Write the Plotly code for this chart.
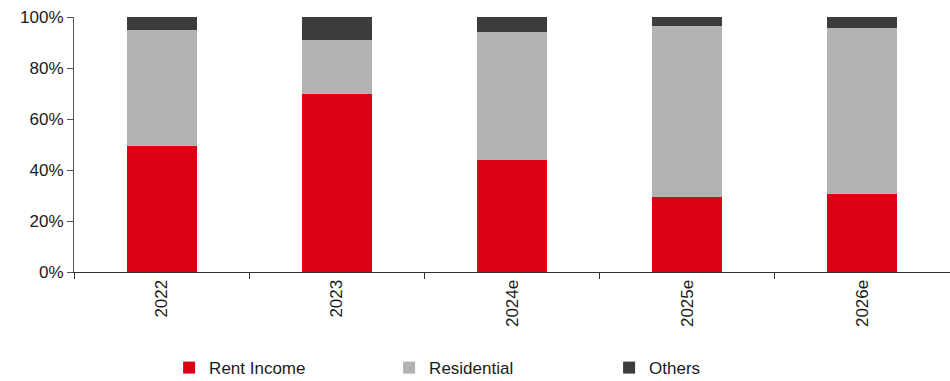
import plotly.graph_objects as go

categories = ["2022", "2023", "2024e", "2025e", "2026e"]
rent_income = [49.6, 69.7, 44.0, 29.3, 30.7]
residential = [45.2, 21.2, 50.0, 67.1, 64.9]
others = [5.2, 9.1, 6.0, 3.6, 4.4]

series_names = ["Rent Income", "Residential", "Others"]
colors = ["#DC0014", "#B2B2B2", "#3C3C3C"]

FONT = "Liberation Sans Narrow, Arial Narrow, Liberation Sans, Arial"

fig = go.Figure()
for name, vals, col in zip(series_names, [rent_income, residential, others], colors):
    fig.add_trace(go.Bar(
        x=categories, y=vals, name=name,
        marker=dict(color=col, line=dict(width=0)),
    ))

fig.update_layout(
    barmode="stack",
    bargap=0.6,
    width=950, height=381,
    margin=dict(l=74, r=0, t=17, b=109),
    plot_bgcolor="white", paper_bgcolor="white",
    font=dict(family=FONT, size=17, color="#1a1a1a"),
    showlegend=True,
    legend=dict(
        orientation="h", traceorder="normal",
        xref="container", yref="container",
        x=0.178, xanchor="left", y=0.034, yanchor="middle",
        entrywidth=175, entrywidthmode="pixels",
        font=dict(family=FONT, size=17, color="#1a1a1a"),
        itemwidth=30,
    ),
    xaxis=dict(
        automargin=False,
        showline=True, linecolor="#333333", linewidth=1,
        ticks="outside", tickson="boundaries", ticklen=6, tickcolor="#333333",
        tickangle=-90, showgrid=False,
        tickfont=dict(family=FONT, size=17, color="#1a1a1a"),
    ),
    yaxis=dict(
        automargin=False,
        range=[0, 100], dtick=20, ticksuffix="%",
        showline=True, linecolor="#555555", linewidth=1,
        ticks="outside", ticklen=6, tickcolor="#555555",
        showgrid=False, zeroline=False,
        tickfont=dict(family=FONT, size=17, color="#1a1a1a"),
    ),
)

fig.write_html("out.html")
